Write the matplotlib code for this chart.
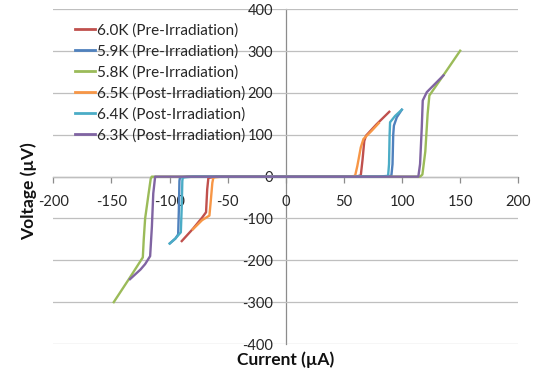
import matplotlib
matplotlib.use("Agg")
import matplotlib.pyplot as plt

plt.rcParams["font.family"] = ["Lato", "DejaVu Sans"]
plt.rcParams["axes.unicode_minus"] = False

# Current (µA) / voltage (µV) sweeps for each temperature
labels = [
    "6.0K (Pre-Irradiation)",
    "5.9K (Pre-Irradiation)",
    "5.8K (Pre-Irradiation)",
    "6.5K (Post-Irradiation)",
    "6.4K (Post-Irradiation)",
    "6.3K (Post-Irradiation)",
]
colors = ["#C0504D", "#4F81BD", "#9BBB59", "#F79646", "#4BACC6", "#8064A2"]

i_60 = [-89.5, -80, -72, -68.6, -67.6, -66.6, -60, 0, 60, 64.5, 66, 67.5, 69, 78, 89]
v_60 = [-154, -125, -98, -85, -30, -3, 0, 0, 0, 3, 40, 85, 98, 125, 155]

i_59 = [-99.5, -95, -92.6, -92.0, -91.5, -91.0, -85, 0, 85, 90.8, 91.8, 92.4, 93.0, 95.5, 99.8]
v_59 = [-159, -148, -138, -80, -10, -2, 0, 0, 0, 2, 30, 100, 122, 142, 160]

i_58 = [-148, -135, -123, -122.2, -121, -118, -116.2, -115.3, -110, 0, 110, 115.5, 117.5, 120, 122, 123.5, 135, 150]
v_58 = [-300, -245, -193, -150, -100, -40, -5, 0, 0, 0, 0, 0, 5, 60, 150, 194, 240, 301]

i_65 = [-80, -72, -65.7, -64.6, -63.2, -62.3, -55, 0, 55, 59.6, 61.5, 64.5, 66.8, 74, 80]
v_65 = [-126, -104, -93, -60, -15, -2, 0, 0, 0, 2, 25, 70, 90, 110, 128]

i_64 = [-100, -95, -90.3, -89.5, -89.0, -88.6, -80, 0, 80, 88.0, 88.8, 89.3, 89.7, 94, 99.8]
v_64 = [-160, -148, -133, -70, -10, -2, 0, 0, 0, 2, 30, 100, 130, 145, 160]

i_63 = [-134, -125, -121, -116.7, -115.2, -114, -112.4, -108, 0, 108, 114, 115.5, 117, 117.8, 121.3, 135.6]
v_63 = [-245, -222, -209, -190, -120, -40, 0, 0, 0, 0, 0, 30, 120, 182, 202, 242]

currents = [i_60, i_59, i_58, i_65, i_64, i_63]
voltages = [v_60, v_59, v_58, v_65, v_64, v_63]

x_ticks = [-200, -150, -100, -50, 0, 50, 100, 150, 200]
y_ticks = [-400, -300, -200, -100, 0, 100, 200, 300, 400]

fig = plt.figure(figsize=(5.35, 3.71), dpi=100, facecolor="white")
ax = fig.add_axes([53.3 / 535, 27 / 371, 465 / 535, 334.7 / 371])

for cur, volt, lab, col in zip(currents, voltages, labels, colors):
    ax.plot(cur, volt, color=col, lw=1.7, label=lab, solid_joinstyle="round")

ax.set_xlim(-200, 200)
ax.set_ylim(-400, 400)
ax.set_xticks(x_ticks)
ax.set_yticks(y_ticks)
ax.yaxis.grid(True, color="#BFBFBF", lw=0.9)
ax.set_axisbelow(True)

for side in ("top", "right"):
    ax.spines[side].set_visible(False)
ax.spines["left"].set_position(("data", 0))
ax.spines["bottom"].set_position(("data", 0))
for side in ("left", "bottom"):
    ax.spines[side].set_color("#8C8C8C")
    ax.spines[side].set_linewidth(0.9)
    ax.spines[side].set_zorder(0.5)

ax.tick_params(axis="x", direction="out", length=4, width=0.9, color="#8C8C8C",
               pad=9, labelsize=10.5, labelcolor="#262626")
ax.tick_params(axis="y", length=0, pad=9, labelsize=10.5, labelcolor="#262626")

leg = ax.legend(loc="upper left", bbox_to_anchor=(75 / 535, 1 - 23 / 371),
                bbox_transform=fig.transFigure, frameon=False, fontsize=11,
                handlelength=1.3, handletextpad=0.15, labelspacing=0.44,
                borderpad=0, borderaxespad=0)
for t in leg.get_texts():
    t.set_color("#262626")
for h in leg.get_lines():
    h.set_linewidth(2.0)

fig.text(29 / 535, 1 - 191 / 371, "Voltage (µV)", rotation=90, ha="center",
         va="center", fontsize=12.5, fontweight="bold", color="#111111")
fig.text(286 / 535, 1 - 360 / 371, "Current (µA)", ha="center", va="center",
         fontsize=12.5, fontweight="bold", color="#111111")

fig.savefig("out.png", dpi=100, facecolor="white")
